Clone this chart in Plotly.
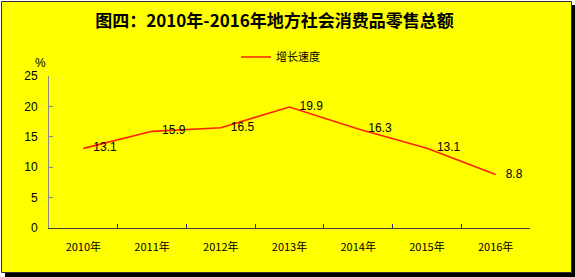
import plotly.graph_objects as go

years = ["2010年", "2011年", "2012年", "2013年", "2014年", "2015年", "2016年"]
growth = [13.1, 15.9, 16.5, 19.9, 16.3, 13.1, 8.8]
series_name = "增长速度"
title_text = "图四：2010年-2016年地方社会消费品零售总额"

W, H = 575, 277
L, R, T, B = 49, 530, 76, 228  # plot area in pixels


def px_x(p):
    return (p - L) / (R - L)


def px_y(p):
    return (B - p) / (B - T)


fig = go.Figure()
fig.add_trace(go.Scatter(
    x=years, y=growth, name=series_name,
    mode="lines+text",
    line=dict(color="#FF2200", width=1.6),
    text=["   " + f"{v:.1f}" for v in growth],
    textposition="middle right",
    textfont=dict(family="Liberation Sans, Arial", size=12, color="#000000"),
    cliponaxis=False,
))

shapes = [
    # shadow
    dict(type="rect", xref="paper", yref="paper", layer="below",
         x0=px_x(5), x1=px_x(575), y0=px_y(5), y1=px_y(277),
         fillcolor="#000000", line=dict(width=0)),
    # main frame
    dict(type="rect", xref="paper", yref="paper", layer="below",
         x0=px_x(1.5), x1=px_x(571.5), y0=px_y(1.5), y1=px_y(272.5),
         fillcolor="#FFFF00", line=dict(color="#333333", width=1)),
]

fig.update_layout(
    width=W, height=H,
    margin=dict(l=L, r=W - R, t=T, b=H - B, pad=0),
    paper_bgcolor="#FFFFFF",
    plot_bgcolor="rgba(0,0,0,0)",
    shapes=shapes,
    showlegend=True,
    legend=dict(
        orientation="h", x=px_x(236), y=px_y(57), xanchor="left", yanchor="middle",
        bgcolor="rgba(0,0,0,0)",
        font=dict(family="Noto Sans CJK SC", size=11, color="#000000"),
    ),
    title=dict(
        text=title_text, x=274.5 / W, y=1 - 21 / H, xanchor="center", yanchor="middle",
        font=dict(family="Noto Sans CJK SC", size=17, color="#000000", weight="bold"),
    ),
    xaxis=dict(
        type="category", tickson="boundaries",
        ticks="inside", ticklen=4, tickcolor="#333333",
        showline=True, linecolor="#444444", linewidth=1,
        showgrid=False, zeroline=False,
        ticklabelstandoff=9,
        tickfont=dict(family="Noto Sans CJK SC", size=11, color="#000000"),
        range=[-0.5, 6.5],
    ),
    yaxis=dict(
        range=[0, 25], tickvals=[0, 5, 10, 15, 20, 25],
        ticks="inside", ticklen=4, tickcolor="#888888",
        showline=True, linecolor="#888888", linewidth=1,
        showgrid=False, zeroline=False,
        ticklabelstandoff=8,
        tickfont=dict(family="Liberation Sans, Arial", size=12, color="#000000"),
    ),
    annotations=[
        dict(text="%", xref="paper", yref="paper", x=px_x(40), y=px_y(63),
             xanchor="center", yanchor="middle", showarrow=False,
             font=dict(family="Liberation Sans, Arial", size=12, color="#000000")),
    ],
)

fig.write_html("out.html")
